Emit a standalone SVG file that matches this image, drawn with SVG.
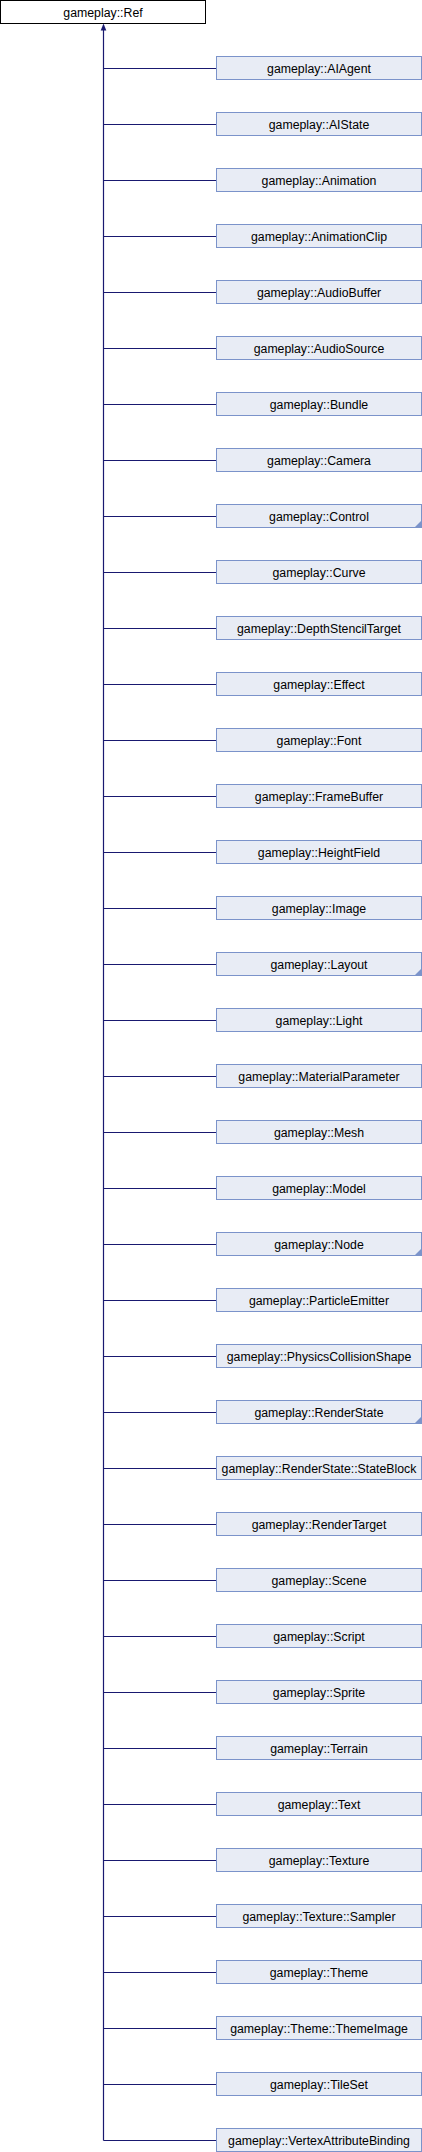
<svg xmlns="http://www.w3.org/2000/svg" width="422" height="2152" viewBox="0 0 422 2152">
<style>
text{font-family:"Liberation Sans",Arial,sans-serif;font-size:12.3px;fill:#000;text-anchor:middle}
.n rect{fill:#E8ECF5;stroke:#7B93CA;stroke-width:1}
.c{fill:#7B93CA}
#ref rect{fill:#fff;stroke:#000;stroke-width:1}
#edges path{stroke:#191970;stroke-width:1.2;fill:none}
</style>
<defs>
<marker id="ah" markerWidth="6" markerHeight="8" refX="2.5" refY="0" orient="auto" markerUnits="userSpaceOnUse" viewBox="0 0 5 7" overflow="visible"><path d="M2.5,0 L5,7 L0,7 Z" fill="#191970"/></marker>
</defs>
<g id="edges">
<path d="M103.5,2140.5 V30"/>
<polygon points="103.5,23.5 106.3,30.5 100.7,30.5" fill="#191970"/>
<path d="M103.5,68.5H216.5M103.5,124.5H216.5M103.5,180.5H216.5M103.5,236.5H216.5M103.5,292.5H216.5M103.5,348.5H216.5M103.5,404.5H216.5M103.5,460.5H216.5M103.5,516.5H216.5M103.5,572.5H216.5M103.5,628.5H216.5M103.5,684.5H216.5M103.5,740.5H216.5M103.5,796.5H216.5M103.5,852.5H216.5M103.5,908.5H216.5M103.5,964.5H216.5M103.5,1020.5H216.5M103.5,1076.5H216.5M103.5,1132.5H216.5M103.5,1188.5H216.5M103.5,1244.5H216.5M103.5,1300.5H216.5M103.5,1356.5H216.5M103.5,1412.5H216.5M103.5,1468.5H216.5M103.5,1524.5H216.5M103.5,1580.5H216.5M103.5,1636.5H216.5M103.5,1692.5H216.5M103.5,1748.5H216.5M103.5,1804.5H216.5M103.5,1860.5H216.5M103.5,1916.5H216.5M103.5,1972.5H216.5M103.5,2028.5H216.5M103.5,2084.5H216.5M103.5,2140.5H216.5"/>
</g>
<g id="ref"><rect x="0.5" y="0.5" width="205" height="23"/><text x="103" y="16.5">gameplay::Ref</text></g>
<g id="n0" class="n"><rect x="216.5" y="56.5" width="205" height="23"/><text x="319" y="72.5">gameplay::AIAgent</text></g>
<g id="n1" class="n"><rect x="216.5" y="112.5" width="205" height="23"/><text x="319" y="128.5">gameplay::AIState</text></g>
<g id="n2" class="n"><rect x="216.5" y="168.5" width="205" height="23"/><text x="319" y="184.5">gameplay::Animation</text></g>
<g id="n3" class="n"><rect x="216.5" y="224.5" width="205" height="23"/><text x="319" y="240.5">gameplay::AnimationClip</text></g>
<g id="n4" class="n"><rect x="216.5" y="280.5" width="205" height="23"/><text x="319" y="296.5">gameplay::AudioBuffer</text></g>
<g id="n5" class="n"><rect x="216.5" y="336.5" width="205" height="23"/><text x="319" y="352.5">gameplay::AudioSource</text></g>
<g id="n6" class="n"><rect x="216.5" y="392.5" width="205" height="23"/><text x="319" y="408.5">gameplay::Bundle</text></g>
<g id="n7" class="n"><rect x="216.5" y="448.5" width="205" height="23"/><text x="319" y="464.5">gameplay::Camera</text></g>
<g id="n8" class="n"><rect x="216.5" y="504.5" width="205" height="23"/><polygon class="c" points="422,520 422,528 414,528"/><text x="319" y="520.5">gameplay::Control</text></g>
<g id="n9" class="n"><rect x="216.5" y="560.5" width="205" height="23"/><text x="319" y="576.5">gameplay::Curve</text></g>
<g id="n10" class="n"><rect x="216.5" y="616.5" width="205" height="23"/><text x="319" y="632.5">gameplay::DepthStencilTarget</text></g>
<g id="n11" class="n"><rect x="216.5" y="672.5" width="205" height="23"/><text x="319" y="688.5">gameplay::Effect</text></g>
<g id="n12" class="n"><rect x="216.5" y="728.5" width="205" height="23"/><text x="319" y="744.5">gameplay::Font</text></g>
<g id="n13" class="n"><rect x="216.5" y="784.5" width="205" height="23"/><text x="319" y="800.5">gameplay::FrameBuffer</text></g>
<g id="n14" class="n"><rect x="216.5" y="840.5" width="205" height="23"/><text x="319" y="856.5">gameplay::HeightField</text></g>
<g id="n15" class="n"><rect x="216.5" y="896.5" width="205" height="23"/><text x="319" y="912.5">gameplay::Image</text></g>
<g id="n16" class="n"><rect x="216.5" y="952.5" width="205" height="23"/><polygon class="c" points="422,968 422,976 414,976"/><text x="319" y="968.5">gameplay::Layout</text></g>
<g id="n17" class="n"><rect x="216.5" y="1008.5" width="205" height="23"/><text x="319" y="1024.5">gameplay::Light</text></g>
<g id="n18" class="n"><rect x="216.5" y="1064.5" width="205" height="23"/><text x="319" y="1080.5">gameplay::MaterialParameter</text></g>
<g id="n19" class="n"><rect x="216.5" y="1120.5" width="205" height="23"/><text x="319" y="1136.5">gameplay::Mesh</text></g>
<g id="n20" class="n"><rect x="216.5" y="1176.5" width="205" height="23"/><text x="319" y="1192.5">gameplay::Model</text></g>
<g id="n21" class="n"><rect x="216.5" y="1232.5" width="205" height="23"/><polygon class="c" points="422,1248 422,1256 414,1256"/><text x="319" y="1248.5">gameplay::Node</text></g>
<g id="n22" class="n"><rect x="216.5" y="1288.5" width="205" height="23"/><text x="319" y="1304.5">gameplay::ParticleEmitter</text></g>
<g id="n23" class="n"><rect x="216.5" y="1344.5" width="205" height="23"/><text x="319" y="1360.5">gameplay::PhysicsCollisionShape</text></g>
<g id="n24" class="n"><rect x="216.5" y="1400.5" width="205" height="23"/><polygon class="c" points="422,1416 422,1424 414,1424"/><text x="319" y="1416.5">gameplay::RenderState</text></g>
<g id="n25" class="n"><rect x="216.5" y="1456.5" width="205" height="23"/><text x="319" y="1472.5">gameplay::RenderState::StateBlock</text></g>
<g id="n26" class="n"><rect x="216.5" y="1512.5" width="205" height="23"/><text x="319" y="1528.5">gameplay::RenderTarget</text></g>
<g id="n27" class="n"><rect x="216.5" y="1568.5" width="205" height="23"/><text x="319" y="1584.5">gameplay::Scene</text></g>
<g id="n28" class="n"><rect x="216.5" y="1624.5" width="205" height="23"/><text x="319" y="1640.5">gameplay::Script</text></g>
<g id="n29" class="n"><rect x="216.5" y="1680.5" width="205" height="23"/><text x="319" y="1696.5">gameplay::Sprite</text></g>
<g id="n30" class="n"><rect x="216.5" y="1736.5" width="205" height="23"/><text x="319" y="1752.5">gameplay::Terrain</text></g>
<g id="n31" class="n"><rect x="216.5" y="1792.5" width="205" height="23"/><text x="319" y="1808.5">gameplay::Text</text></g>
<g id="n32" class="n"><rect x="216.5" y="1848.5" width="205" height="23"/><text x="319" y="1864.5">gameplay::Texture</text></g>
<g id="n33" class="n"><rect x="216.5" y="1904.5" width="205" height="23"/><text x="319" y="1920.5">gameplay::Texture::Sampler</text></g>
<g id="n34" class="n"><rect x="216.5" y="1960.5" width="205" height="23"/><text x="319" y="1976.5">gameplay::Theme</text></g>
<g id="n35" class="n"><rect x="216.5" y="2016.5" width="205" height="23"/><text x="319" y="2032.5">gameplay::Theme::ThemeImage</text></g>
<g id="n36" class="n"><rect x="216.5" y="2072.5" width="205" height="23"/><text x="319" y="2088.5">gameplay::TileSet</text></g>
<g id="n37" class="n"><rect x="216.5" y="2128.5" width="205" height="23"/><text x="319" y="2144.5">gameplay::VertexAttributeBinding</text></g>
</svg>
